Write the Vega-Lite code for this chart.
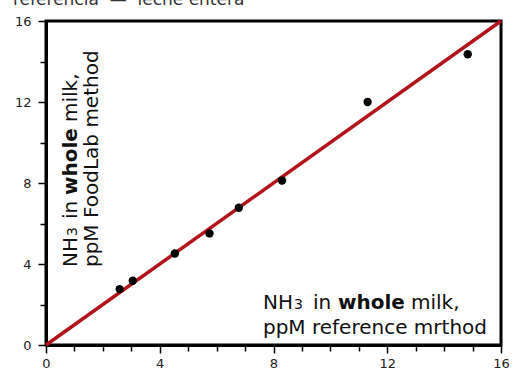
{
  "$schema": "https://vega.github.io/schema/vega-lite/v6.json",
  "width": 455,
  "height": 324,
  "autosize": {"type": "none"},
  "padding": {"left": 46, "top": 21, "right": 15, "bottom": 31},
  "background": "white",
  "title": {"text": "referencia\u00a0 —\u00a0 leche entera", "anchor": "start", "frame": "group", "font": "DejaVu Sans", "fontSize": 17, "fontWeight": "normal", "color": "#333333", "dx": -33, "dy": 8, "baseline": "alphabetic", "offset": 0},
  "config": {
    "view": {"stroke": "black", "strokeWidth": 3},
    "axis": {
      "grid": false,
      "title": null,
      "domainColor": "black",
      "domainWidth": 3,
      "tickColor": "black",
      "tickWidth": 1.5,
      "tickSize": {"condition": {"test": "datum.value % 4 == 0", "value": 8}, "value": 6},
      "labelFont": "DejaVu Sans",
      "labelFontSize": 13,
      "labelColor": "#222222",
      "labelPadding": 4,
      "labelOverlap": false,
      "labelFlush": false,
      "values": [0, 2, 4, 6, 8, 10, 12, 14, 16],
      "labelExpr": "datum.value % 4 == 0 ? datum.label : ''"
    },
    "axisY": {"labelPadding": 7}
  },
  "encoding": {
    "x": {"field": "x", "type": "quantitative", "scale": {"domain": [0, 16], "nice": false, "zero": false}},
    "y": {"field": "y", "type": "quantitative", "scale": {"domain": [0, 16], "nice": false, "zero": false}}
  },
  "layer": [
    {
      "data": {"values": [{"x": 0, "y": 0}, {"x": 16, "y": 16}]},
      "mark": {"type": "line", "color": "#b3141c", "strokeWidth": 3.5}
    },
    {
      "data": {"values": [
        {"x": 2.59, "y": 2.76},
        {"x": 3.05, "y": 3.17},
        {"x": 4.53, "y": 4.52},
        {"x": 5.75, "y": 5.51},
        {"x": 6.78, "y": 6.78},
        {"x": 8.30, "y": 8.12},
        {"x": 11.31, "y": 12.0},
        {"x": 14.83, "y": 14.36}
      ]},
      "mark": {"type": "circle", "color": "black", "opacity": 1, "size": 70}
    },
    {
      "data": {"values": [{"x": 7.63, "y": 1.78, "t": "NH"}]},
      "mark": {"type": "text", "font": "DejaVu Sans", "fontSize": 20, "align": "left", "baseline": "alphabetic", "color": "#111111", "dx": 0},
      "encoding": {"text": {"field": "t"}}
    },
    {
      "data": {"values": [{"x": 7.63, "y": 1.78, "t": "3"}]},
      "mark": {"type": "text", "font": "DejaVu Sans", "fontSize": 14, "align": "left", "baseline": "alphabetic", "color": "#111111", "dx": 31},
      "encoding": {"text": {"field": "t"}}
    },
    {
      "data": {"values": [{"x": 7.63, "y": 1.78, "t": "in"}]},
      "mark": {"type": "text", "font": "DejaVu Sans", "fontSize": 20, "align": "left", "baseline": "alphabetic", "color": "#111111", "dx": 50},
      "encoding": {"text": {"field": "t"}}
    },
    {
      "data": {"values": [{"x": 7.63, "y": 1.78, "t": "whole"}]},
      "mark": {"type": "text", "font": "DejaVu Sans", "fontSize": 20, "fontWeight": "bold", "align": "left", "baseline": "alphabetic", "color": "#111111", "dx": 75},
      "encoding": {"text": {"field": "t"}}
    },
    {
      "data": {"values": [{"x": 7.63, "y": 1.78, "t": "milk,"}]},
      "mark": {"type": "text", "font": "DejaVu Sans", "fontSize": 20, "align": "left", "baseline": "alphabetic", "color": "#111111", "dx": 148},
      "encoding": {"text": {"field": "t"}}
    },
    {
      "data": {"values": [{"x": 7.63, "y": 0.54, "t": "ppM reference mrthod"}]},
      "mark": {"type": "text", "font": "DejaVu Sans", "fontSize": 20, "align": "left", "baseline": "alphabetic", "color": "#111111", "dx": 0},
      "encoding": {"text": {"field": "t"}}
    },
    {
      "data": {"values": [{"x": 1.10, "y": 3.85, "t": "NH"}]},
      "mark": {"type": "text", "angle": 270, "font": "DejaVu Sans", "fontSize": 20, "align": "left", "baseline": "alphabetic", "color": "#111111", "dx": 0},
      "encoding": {"text": {"field": "t"}}
    },
    {
      "data": {"values": [{"x": 1.10, "y": 3.85, "t": "3"}]},
      "mark": {"type": "text", "angle": 270, "font": "DejaVu Sans", "fontSize": 14, "align": "left", "baseline": "alphabetic", "color": "#111111", "dx": 31},
      "encoding": {"text": {"field": "t"}}
    },
    {
      "data": {"values": [{"x": 1.10, "y": 3.85, "t": "in"}]},
      "mark": {"type": "text", "angle": 270, "font": "DejaVu Sans", "fontSize": 20, "align": "left", "baseline": "alphabetic", "color": "#111111", "dx": 48},
      "encoding": {"text": {"field": "t"}}
    },
    {
      "data": {"values": [{"x": 1.10, "y": 3.85, "t": "whole"}]},
      "mark": {"type": "text", "angle": 270, "font": "DejaVu Sans", "fontSize": 20, "fontWeight": "bold", "align": "left", "baseline": "alphabetic", "color": "#111111", "dx": 72},
      "encoding": {"text": {"field": "t"}}
    },
    {
      "data": {"values": [{"x": 1.10, "y": 3.85, "t": "milk,"}]},
      "mark": {"type": "text", "angle": 270, "font": "DejaVu Sans", "fontSize": 20, "align": "left", "baseline": "alphabetic", "color": "#111111", "dx": 145},
      "encoding": {"text": {"field": "t"}}
    },
    {
      "data": {"values": [{"x": 1.84, "y": 3.85, "t": "ppM FoodLab method"}]},
      "mark": {"type": "text", "angle": 270, "font": "DejaVu Sans", "fontSize": 20, "align": "left", "baseline": "alphabetic", "color": "#111111", "dx": 0},
      "encoding": {"text": {"field": "t"}}
    }
  ]
}
